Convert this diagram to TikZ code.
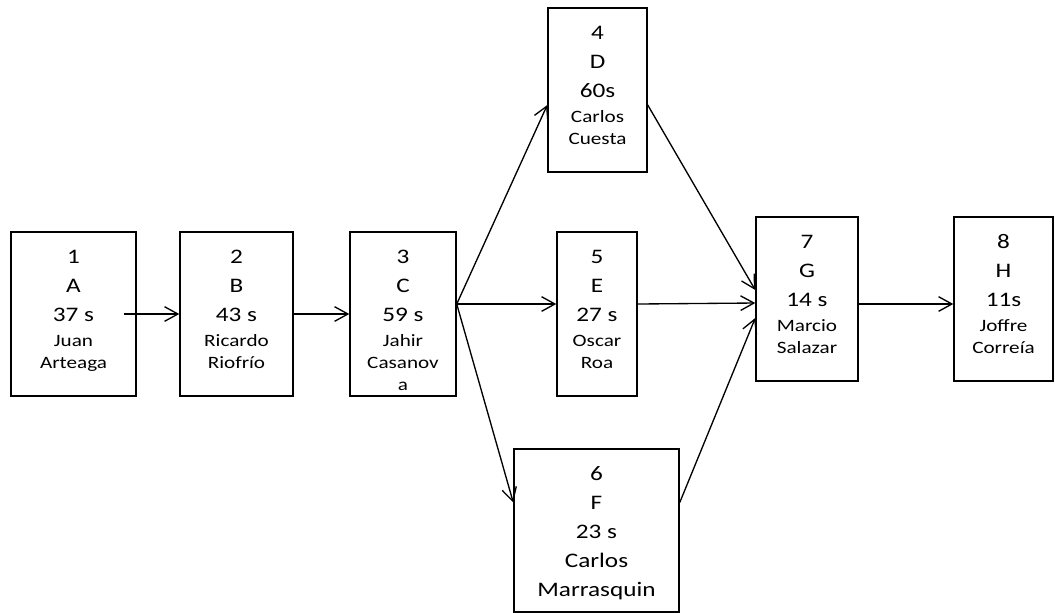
\documentclass[tikz,border=0pt]{standalone}
\usepackage{fontspec}
\setmainfont[FakeStretch=1.22]{Carlito}
\usetikzlibrary{arrows.meta,calc}
\begin{document}
\begin{tikzpicture}[x=0.75pt,y=-0.75pt,
  task/.style 2 args={draw, line width=1.1pt, inner sep=0pt,
    minimum width=#1*0.75pt, minimum height=#2*0.75pt},
  bigtext/.style={font=\fontsize{15.5}{21.75}\selectfont, align=center,
    anchor=base, inner sep=0pt},
  nametext/.style={font=\fontsize{13}{16.5}\selectfont, align=center,
    anchor=base, inner sep=0pt},
  conn/.style={draw, line width=1pt, -{Straight Barb[length=10pt,width=11pt]}}]
\useasboundingbox (0,0) rectangle (1055,612);

% activity boxes
\node[task={125}{164}] (b1) at (73.5,314) {};
\node[task={113}{164}] (b2) at (236.5,314) {};
\node[task={106}{164}] (b3) at (403,314) {};
\node[task={99}{164}]  (b4) at (597.5,90) {};
\node[task={80}{164}]  (b5) at (597,314) {};
\node[task={165}{163}] (b6) at (596.5,530.5) {};
\node[task={102}{164}] (b7) at (807,299) {};
\node[task={99}{164}]  (b8) at (1003.5,299) {};

% box texts (each node sits on the baseline of its last line)
\node[bigtext]  (t1) at (73.5,321.5) {1\\A\\37 s};
\node[nametext] (n1) at (73.5,368) {Juan\\Arteaga};
\node[bigtext]  (t2) at (236.5,321.5) {2\\B\\43 s};
\node[nametext] (n2) at (236.5,368) {Ricardo\\Riofrío};
\node[bigtext]  (t3) at (403,321.5) {3\\C\\59 s};
\node[nametext] (n3) at (403,390) {Jahir\\Casanov\\a};
\node[bigtext]  (t4) at (597.5,97.5) {4\\D\\60s};
\node[nametext] (n4) at (597.5,144) {Carlos\\Cuesta};
\node[bigtext]  (t5) at (597,321.5) {5\\E\\27 s};
\node[nametext] (n5) at (597,368) {Oscar\\Roa};
\node[bigtext]  (t6) at (596.5,596.5) {6\\F\\23 s\\Carlos\\Marrasquin};
\node[bigtext]  (t7) at (807,306.5) {7\\G\\14 s};
\node[nametext] (n7) at (807,353) {Marcio\\Salazar};
\node[bigtext]  (t8) at (1003.5,306.5) {8\\H\\11s};
\node[nametext] (n8) at (1003.5,353) {Joffre\\Correía};

% connectors
\coordinate (s3) at ($(b3.east)+(0,-10)$);
\draw[conn] ($(b1.east)+(-13,0)$) -- (b2.west);
\draw[conn] (b2.east) -- (b3.west);
\draw[conn] (s3) -- ($(b4.west)+(0,15)$);
\draw[conn] (s3) -- ($(b5.west)+(0,-10)$);
\draw[conn] (s3) -- ($(b6.west)+(0,-28)$);
\draw[conn] ($(b4.east)+(0,15)$) -- ($(b7.west)+(0,-9)$);
\draw[conn] ($(b5.east)+(0,-10)$) -- ($(b7.west)+(0,4)$);
\draw[conn] ($(b6.east)+(0,-28)$) -- ($(b7.west)+(0,19)$);
\draw[conn] ($(b7.east)+(0,5)$) -- ($(b8.west)+(0,5)$);
\end{tikzpicture}
\end{document}
